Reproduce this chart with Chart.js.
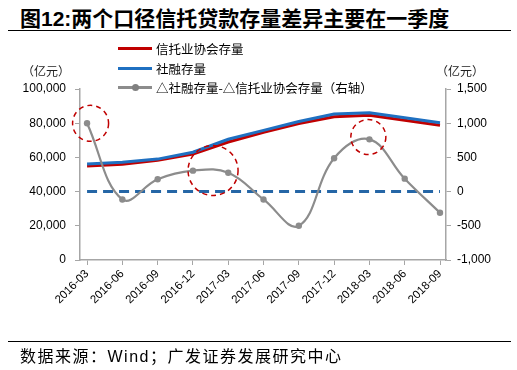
<!DOCTYPE html>
<html><head><meta charset="utf-8">
<script src="https://cdn.jsdelivr.net/npm/chart.js@4.4.1/dist/chart.umd.min.js"></script>
<style>
html,body{margin:0;padding:0;background:#fff;}
body{width:517px;height:370px;position:relative;overflow:hidden;font-family:"Liberation Sans","Noto Sans CJK SC",sans-serif;}
#c{position:absolute;left:0;top:0;}
.title{position:absolute;left:20px;top:2px;font-size:21px;font-weight:bold;color:#000;font-family:"Liberation Sans","Noto Sans CJK SC",sans-serif;white-space:nowrap;}
.hr{position:absolute;left:8px;width:503px;height:0;border-top:1.5px solid #000;}
.foot{position:absolute;left:20px;top:343px;font-size:16px;letter-spacing:1.5px;color:#000;white-space:nowrap;font-family:"Liberation Sans","Noto Sans CJK SC",sans-serif;}
.unit{position:absolute;top:62px;font-size:12px;color:#222;font-family:"Noto Sans CJK SC",sans-serif;white-space:nowrap;}
.leg{position:absolute;left:118px;font-size:12.5px;color:#000;font-family:"Noto Sans CJK SC",sans-serif;white-space:nowrap;display:flex;align-items:center;height:16px;}
.leg .ln{width:34px;height:3px;margin-right:4px;position:relative;}
.leg .dot{position:absolute;left:14px;top:-2px;width:7px;height:7px;border-radius:50%;background:#808080;}
</style></head>
<body>
<div class="title">图12:两个口径信托贷款存量差异主要在一季度</div>
<div class="hr" style="top:30px"></div>
<canvas id="c" width="517" height="370"></canvas>
<div class="unit" style="left:22px">（亿元）</div>
<div class="unit" style="left:436px">（亿元）</div>
<div class="leg" style="top:40px"><span class="ln" style="background:#C00000"></span>信托业协会存量</div>
<div class="leg" style="top:60px"><span class="ln" style="background:#1F70C1"></span>社融存量</div>
<div class="leg" style="top:79px"><span class="ln" style="background:#8C8C8C"><span class="dot"></span></span>△社融存量-△信托业协会存量（右轴）</div>
<div class="hr" style="top:341px"></div>
<div class="foot">数据来源：Wind；广发证券发展研究中心</div>
<script>
const categories = ["2016-03","2016-06","2016-09","2016-12","2017-03","2017-06","2017-09","2017-12","2018-03","2018-06","2018-09"];
const trustAssoc = [55000, 56000, 58300, 62000, 69000, 74700, 79800, 83800, 84600, 81700, 78800];
const socialFin  = [56200, 57100, 59000, 63000, 70600, 75800, 81000, 85400, 86100, 83200, 80300];
const diffSeries = [1000, -115, 180, 306, 276, -115, -500, 487, 764, 189, -309];
const zeroLine   = [0, 0, 0, 0, 0, 0, 0, 0, 0, 0, 0];
const leftTicks  = [0, 20000, 40000, 60000, 80000, 100000];
const rightTicks = [-1000, -500, 0, 500, 1000, 1500];

// highlight circles (annotation: x index, right-axis value, radius px)
const circles = [
  {x: 0.1, y: 998, r: 18},
  {x: 3.57, y: 308, r: 25},
  {x: 7.97, y: 798, r: 17.5}
];

const toXY = arr => arr.map((v,i)=>({x:i, y:v}));
const fmt = v => v.toLocaleString('en-US');

const circlePlugin = {
  id:'circles',
  afterDatasetsDraw(chart){
    const ctx = chart.ctx, xs = chart.scales.x, yr = chart.scales.yR;
    ctx.save();
    ctx.strokeStyle = '#C00000';
    ctx.lineWidth = 1.5;
    ctx.setLineDash([5,4]);
    circles.forEach(c=>{
      ctx.beginPath();
      ctx.arc(xs.getPixelForValue(c.x), yr.getPixelForValue(c.y), c.r, 0, Math.PI*2);
      ctx.stroke();
    });
    ctx.restore();
  }
};

const axisColor = '#A6A6A6';
new Chart(document.getElementById('c'), {
  type:'line',
  data:{
    datasets:[
      {label:'△社融存量-△信托业协会存量（右轴）', data:toXY(diffSeries), yAxisID:'yR', borderColor:'#8C8C8C', backgroundColor:'#8C8C8C', borderWidth:2.2, tension:0.4, pointRadius:3.2, pointBackgroundColor:'#8C8C8C', pointBorderWidth:0},
      {label:'zero', data:toXY(zeroLine), yAxisID:'yR', borderColor:'#2566A6', borderWidth:3, borderDash:[10,6], pointRadius:0, tension:0},
      {label:'社融存量', data:toXY(socialFin), yAxisID:'yL', borderColor:'#1F70C1', borderWidth:3, pointRadius:0, tension:0},
      {label:'信托业协会存量', data:toXY(trustAssoc), yAxisID:'yL', borderColor:'#C00000', borderWidth:3, pointRadius:0, tension:0}
    ]
  },
  options:{
    responsive:false, animation:false,
    layout:{padding:{top:89, left:0, right:0, bottom:0}},
    plugins:{legend:{display:false}, tooltip:{enabled:false}},
    scales:{
      x:{type:'linear', min:-0.2, max:10.17,
        afterBuildTicks(s){ s.ticks = categories.map((c,i)=>({value:i})); },
        afterFit(s){ s.height = 110; },
        grid:{drawOnChartArea:false, tickLength:5, color:axisColor},
        border:{color:axisColor, width:1.5},
        ticks:{autoSkip:false, maxRotation:45, minRotation:45, padding:2, color:'#000', font:{family:'Liberation Sans', size:11.5},
          callback:(v)=>categories[v]}
      },
      yL:{position:'left', min:0, max:100000,
        afterBuildTicks(s){ s.ticks = leftTicks.map(v=>({value:v})); },
        afterFit(s){ s.width = 80; },
        grid:{drawOnChartArea:false, tickLength:5, color:axisColor},
        border:{color:axisColor, width:1.5},
        ticks:{padding:9, color:'#000', font:{family:'Liberation Sans', size:12}, callback:v=>fmt(v)}
      },
      yR:{position:'right', min:-1000, max:1500,
        afterBuildTicks(s){ s.ticks = rightTicks.map(v=>({value:v})); },
        afterFit(s){ s.width = 71; },
        grid:{drawOnChartArea:false, tickLength:5, color:axisColor},
        border:{color:axisColor, width:1.5},
        ticks:{padding:6, color:'#000', font:{family:'Liberation Sans', size:12}, callback:v=>fmt(v)}
      }
    }
  },
  plugins:[circlePlugin]
});
</script>
</body></html>
